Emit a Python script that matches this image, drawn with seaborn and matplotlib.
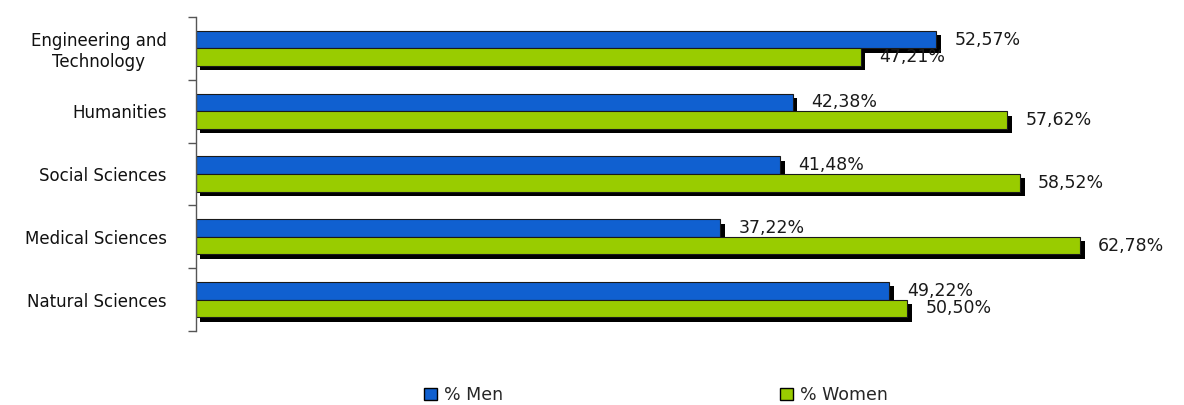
import matplotlib
matplotlib.use("Agg")
import matplotlib.pyplot as plt
import matplotlib.patheffects as pe
from matplotlib.ticker import FixedLocator
import seaborn as sns
import pandas as pd

categories = ["Engineering and\nTechnology", "Humanities", "Social Sciences",
              "Medical Sciences", "Natural Sciences"]
men = [52.57, 42.38, 41.48, 37.22, 49.22]
women = [47.21, 57.62, 58.52, 62.78, 50.50]
series = ["% Men", "% Women"]
colors = ["#1060D0", "#99CC00"]

df = pd.DataFrame({
    "field": categories * 2,
    "share": men + women,
    "group": [series[0]] * len(categories) + [series[1]] * len(categories),
})

sns.set_style("white")
plt.rcParams["font.family"] = ["DejaVu Sans"]

fig = plt.figure(figsize=(11.84, 4.05), dpi=100)
ax = fig.add_axes([196 / 1184, 74 / 405, (1148 - 196) / 1184, (331 - 17) / 405])

sns.barplot(data=df, y="field", x="share", hue="group", palette=colors,
            orient="h", width=0.56, ax=ax, legend=False,
            edgecolor="#1a1a1a", linewidth=0.8, saturation=1)

# black drop shadow below/right of every bar
shadow = [pe.SimplePatchShadow(offset=(3.2, -3.2), shadow_rgbFace="black", alpha=1.0),
          pe.Normal()]
for p in ax.patches:
    p.set_path_effects(shadow)

for cont in ax.containers:
    labels = [f"{v:.2f}%".replace(".", ",") for v in cont.datavalues]
    ax.bar_label(cont, labels=labels, padding=13, fontsize=12.5, color="#1a1a1a")
for t in ax.texts:
    t.set_transform(t.get_transform() + matplotlib.transforms.ScaledTranslation(
        0, -3 / 72, fig.dpi_scale_trans))

ax.set_xlim(0, 67.6)
ax.set_ylim(len(categories) - 0.5, -0.5)
ax.set_xlabel("")
ax.set_ylabel("")
ax.set_xticks([])
ax.tick_params(axis="y", which="major", length=0, pad=21, labelsize=12, labelcolor="#111111")
ax.yaxis.set_minor_locator(FixedLocator([i - 0.5 for i in range(len(categories) + 1)]))
ax.tick_params(axis="y", which="minor", left=True, length=6, width=1, color="#555555")
for lbl in ax.get_yticklabels():
    lbl.set_horizontalalignment("right")
    lbl.set_multialignment("center")

for side in ["top", "right", "bottom"]:
    ax.spines[side].set_visible(False)
ax.spines["left"].set_color("#555555")
ax.spines["left"].set_linewidth(1)

handles = [plt.Rectangle((0, 0), 1, 1, facecolor=c, edgecolor="black", linewidth=1)
           for c in colors]
fig.legend(handles, series, loc="center", bbox_to_anchor=(0.554, 0.025), ncol=2,
           frameon=False, fontsize=12.5, columnspacing=16, handlelength=0.7,
           handleheight=0.7, handletextpad=0.4)

fig.savefig("out.png", dpi=100)
